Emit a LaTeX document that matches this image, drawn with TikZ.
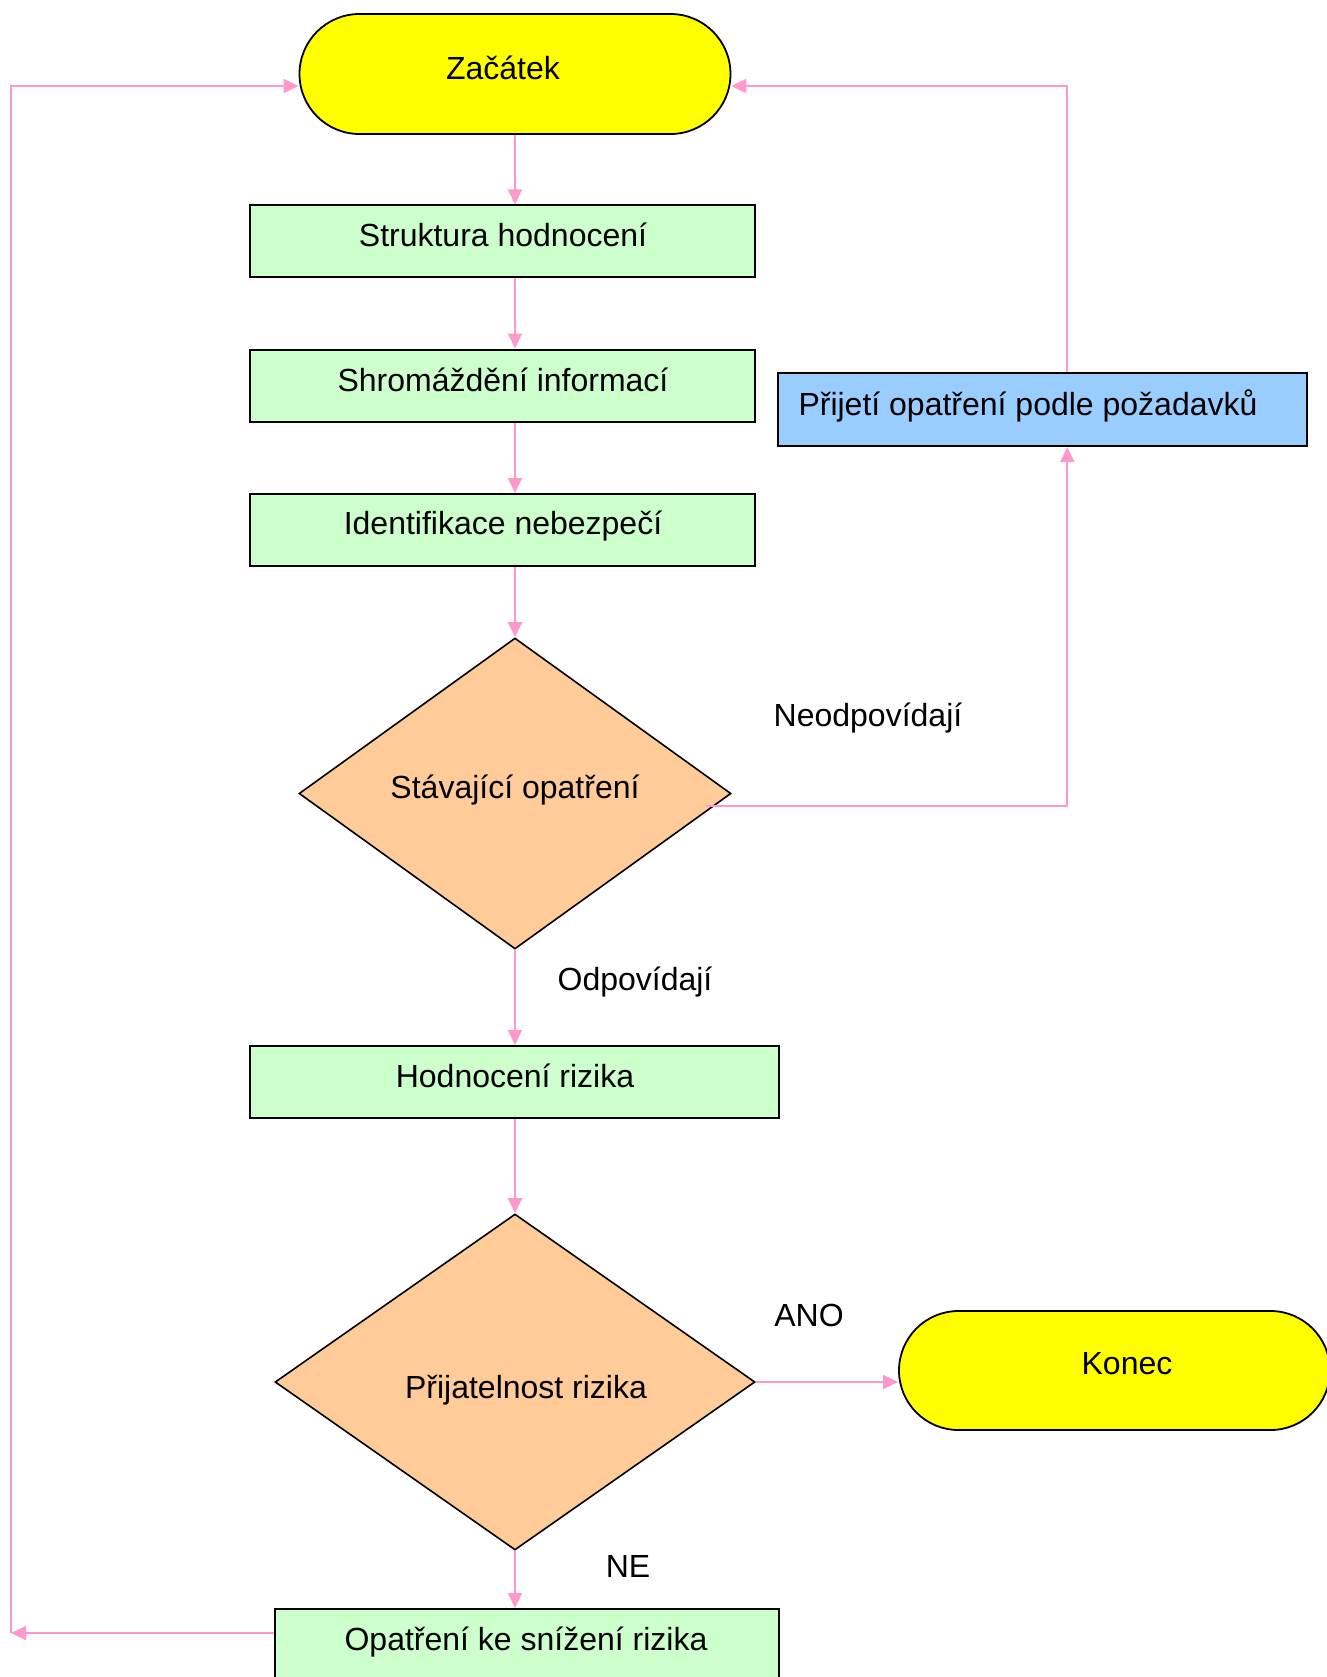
\documentclass[tikz,border=0pt]{standalone}
\usepackage{fontspec}
\setmainfont{Liberation Sans}
\usetikzlibrary{arrows.meta,shapes.geometric}
\definecolor{termfill}{HTML}{FFFF00}
\definecolor{procfill}{HTML}{CCFFCC}
\definecolor{decfill}{HTML}{FFCC99}
\definecolor{actfill}{HTML}{99CCFF}
\definecolor{flowpink}{HTML}{FF99CC}
\begin{document}
\begin{tikzpicture}[x=1pt,y=-1pt,
  terminal/.style={rectangle, rounded corners=60pt, draw=black, line width=1.8pt, fill=termfill, minimum width=431pt, minimum height=120pt, inner sep=0pt},
  procbox/.style={rectangle, draw=black, line width=2pt, fill=procfill, minimum height=72pt, inner sep=0pt},
  actbox/.style={rectangle, draw=black, line width=2pt, fill=actfill, minimum height=73pt, inner sep=0pt},
  decision/.style={diamond, draw=black, line width=1.6pt, fill=decfill, inner sep=0pt},
  txt/.style={inner sep=0pt, text height=23pt, text depth=0pt, font=\fontsize{32}{38}\selectfont},
  flow/.style={draw=flowpink, line width=2pt, -{Triangle[length=15pt,width=14pt]}},
  flowplain/.style={draw=flowpink, line width=2pt}
]
\useasboundingbox (0,0) rectangle (1326,1677);

% shapes
\node[terminal] (start) at (515,74) {};
\node[procbox, minimum width=505pt] (struct) at (502.5,241.5) {};
\node[procbox, minimum width=505pt] (shrom) at (502.5,385.5) {};
\node[procbox, minimum width=505pt] (ident) at (502.5,530) {};
\node[decision, minimum width=432pt, minimum height=311pt] (d1) at (515,793.5) {};
\node[actbox, minimum width=529pt] (accept) at (1042.75,409.5) {};
\node[procbox, minimum width=529pt] (hodn) at (514.5,1082) {};
\node[decision, minimum width=480pt, minimum height=336pt] (d2) at (515,1382) {};
\node[terminal, minimum height=119pt, rounded corners=59.5pt] (konec) at (1114.5,1370.5) {};
\node[procbox, minimum width=504pt] (opat) at (527,1645) {};

% texts
\node[txt] (tstart) at (503,68) {Začátek};
\node[txt] (tstruct) at (503,235) {Struktura hodnocení};
\node[txt] (tshrom) at (503,380) {Shromáždění informací};
\node[txt] (tident) at (503,523) {Identifikace nebezpečí};
\node[txt] (td1) at (515,787) {Stávající opatření};
\node[txt] (taccept) at (1028,403.5) {Přijetí opatření podle požadavků};
\node[txt] (tneod) at (868,715) {Neodpovídají};
\node[txt] (todp) at (635,979) {Odpovídají};
\node[txt] (thodn) at (515,1076) {Hodnocení rizika};
\node[txt] (td2) at (526,1386.5) {Přijatelnost rizika};
\node[txt] (tano) at (809,1315) {ANO};
\node[txt] (tkonec) at (1127,1363) {Konec};
\node[txt] (tne) at (628,1566) {NE};
\node[txt] (topat) at (526,1639) {Opatření ke snížení rizika};

% helper coordinates
\coordinate (nstart) at (706,806);
\coordinate (cBL) at (11,1633);

% connectors
\draw[flow] (start.south) -- (start.south |- struct.north);
\draw[flow] (struct.south -| start) -- (shrom.north -| start);
\draw[flow] (shrom.south -| start) -- (ident.north -| start);
\draw[flow] (ident.south -| d1) -- (d1.north);
\draw[flow] (d1.south) -- (d1.south |- hodn.north);
\draw[flow] (hodn.south -| d2) -- (d2.north);
\draw[flow] (d2.south) -- (d2.south |- opat.north);
\draw[flow] (d2.east) -- (d2.east -| konec.west);
\draw[flow] (nstart) -| ([xshift=24.5pt]accept.south);
\draw[flow] ([xshift=24.5pt]accept.north) |- ([yshift=-12pt]start.east);
\draw[flow] ([yshift=12pt]opat.west) -- (cBL);
\draw[flow] (cBL) |- ([yshift=-12pt]start.west);
\end{tikzpicture}
\end{document}
